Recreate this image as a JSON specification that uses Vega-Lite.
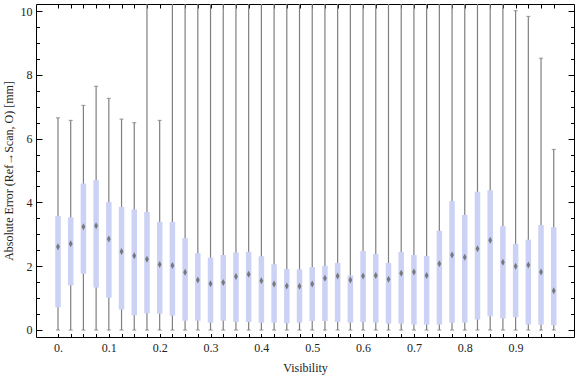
{
  "$schema": "https://vega.github.io/schema/vega-lite/v6.json",
  "width": 538,
  "height": 333,
  "autosize": "none",
  "padding": {"left": 36, "top": 4, "right": 2, "bottom": 40},
  "config": {
    "view": {"stroke": "black", "strokeWidth": 1},
    "axis": {
      "domain": false,
      "grid": false,
      "tickColor": "black",
      "tickWidth": 1,
      "labelFont": "Liberation Serif",
      "labelFontSize": 12,
      "labelColor": "#222222",
      "titleFont": "Liberation Serif",
      "titleFontSize": 12,
      "titleFontWeight": "normal",
      "titleColor": "#222222"
    }
  },
  "data": {
    "values": [
      {"v": 0.000, "lo": 0, "q1": 0.71, "med": 2.61, "q3": 3.57, "hi": 6.65},
      {"v": 0.025, "lo": 0, "q1": 1.40, "med": 2.70, "q3": 3.53, "hi": 6.57},
      {"v": 0.050, "lo": 0, "q1": 1.76, "med": 3.24, "q3": 4.59, "hi": 7.04},
      {"v": 0.075, "lo": 0, "q1": 1.33, "med": 3.27, "q3": 4.70, "hi": 7.64},
      {"v": 0.100, "lo": 0, "q1": 1.01, "med": 2.85, "q3": 4.01, "hi": 7.26},
      {"v": 0.125, "lo": 0, "q1": 0.64, "med": 2.46, "q3": 3.86, "hi": 6.61},
      {"v": 0.150, "lo": 0, "q1": 0.46, "med": 2.33, "q3": 3.78, "hi": 6.50},
      {"v": 0.175, "lo": 0, "q1": 0.52, "med": 2.22, "q3": 3.70, "hi": 12},
      {"v": 0.200, "lo": 0, "q1": 0.51, "med": 2.05, "q3": 3.39, "hi": 6.57},
      {"v": 0.225, "lo": 0, "q1": 0.45, "med": 2.02, "q3": 3.39, "hi": 12},
      {"v": 0.250, "lo": 0, "q1": 0.29, "med": 1.81, "q3": 2.88, "hi": 12},
      {"v": 0.275, "lo": 0, "q1": 0.29, "med": 1.57, "q3": 2.41, "hi": 12},
      {"v": 0.300, "lo": 0, "q1": 0.23, "med": 1.45, "q3": 2.27, "hi": 12},
      {"v": 0.325, "lo": 0, "q1": 0.29, "med": 1.49, "q3": 2.35, "hi": 12},
      {"v": 0.350, "lo": 0, "q1": 0.25, "med": 1.68, "q3": 2.43, "hi": 12},
      {"v": 0.375, "lo": 0, "q1": 0.25, "med": 1.75, "q3": 2.45, "hi": 12},
      {"v": 0.400, "lo": 0, "q1": 0.23, "med": 1.54, "q3": 2.31, "hi": 12},
      {"v": 0.425, "lo": 0, "q1": 0.23, "med": 1.44, "q3": 2.06, "hi": 12},
      {"v": 0.450, "lo": 0, "q1": 0.21, "med": 1.38, "q3": 1.91, "hi": 12},
      {"v": 0.475, "lo": 0, "q1": 0.23, "med": 1.37, "q3": 1.90, "hi": 12},
      {"v": 0.500, "lo": 0, "q1": 0.28, "med": 1.44, "q3": 1.97, "hi": 12},
      {"v": 0.525, "lo": 0, "q1": 0.28, "med": 1.62, "q3": 2.01, "hi": 12},
      {"v": 0.550, "lo": 0, "q1": 0.25, "med": 1.69, "q3": 2.10, "hi": 12},
      {"v": 0.575, "lo": 0, "q1": 0.23, "med": 1.57, "q3": 1.71, "hi": 12},
      {"v": 0.600, "lo": 0, "q1": 0.25, "med": 1.69, "q3": 2.48, "hi": 12},
      {"v": 0.625, "lo": 0, "q1": 0.23, "med": 1.71, "q3": 2.38, "hi": 12},
      {"v": 0.650, "lo": 0, "q1": 0.20, "med": 1.59, "q3": 2.10, "hi": 12},
      {"v": 0.675, "lo": 0, "q1": 0.20, "med": 1.78, "q3": 2.45, "hi": 12},
      {"v": 0.700, "lo": 0, "q1": 0.17, "med": 1.82, "q3": 2.35, "hi": 12},
      {"v": 0.725, "lo": 0, "q1": 0.17, "med": 1.71, "q3": 2.32, "hi": 12},
      {"v": 0.750, "lo": 0, "q1": 0.17, "med": 2.08, "q3": 3.11, "hi": 12},
      {"v": 0.775, "lo": 0, "q1": 0.23, "med": 2.35, "q3": 4.04, "hi": 12},
      {"v": 0.800, "lo": 0, "q1": 0.23, "med": 2.28, "q3": 3.61, "hi": 12},
      {"v": 0.825, "lo": 0, "q1": 0.33, "med": 2.55, "q3": 4.33, "hi": 12},
      {"v": 0.850, "lo": 0, "q1": 0.43, "med": 2.81, "q3": 4.38, "hi": 12},
      {"v": 0.875, "lo": 0, "q1": 0.36, "med": 2.12, "q3": 3.26, "hi": 12},
      {"v": 0.900, "lo": 0, "q1": 0.40, "med": 2.00, "q3": 2.70, "hi": 10.01},
      {"v": 0.925, "lo": 0, "q1": 0.17, "med": 2.04, "q3": 2.83, "hi": 9.83},
      {"v": 0.950, "lo": 0, "q1": 0.17, "med": 1.82, "q3": 3.29, "hi": 8.52},
      {"v": 0.975, "lo": 0, "q1": 0.15, "med": 1.23, "q3": 3.22, "hi": 5.66}
    ]
  },
  "resolve": {"axis": {"x": "independent", "y": "independent"}},
  "layer": [
    {
      "mark": {"type": "rule", "color": "#7f7f7f", "strokeWidth": 1.2, "clip": true},
      "encoding": {
        "x": {
          "field": "v", "type": "quantitative",
          "scale": {"domain": [-0.0334, 1.005], "nice": false, "zero": false},
          "axis": {
            "orient": "bottom",
            "title": "Visibility",
            "values": [0,0.025,0.05,0.075,0.1,0.125,0.15,0.175,0.2,0.225,0.25,0.275,0.3,0.325,0.35,0.375,0.4,0.425,0.45,0.475,0.5,0.525,0.55,0.575,0.6,0.625,0.65,0.675,0.7,0.725,0.75,0.775,0.8,0.825,0.85,0.875,0.9,0.925,0.95,0.975],
            "tickSize": -3.5,
            "labelPadding": 9,
            "labelExpr": "abs(datum.value*10 - round(datum.value*10)) < 0.001 ? (datum.value == 0 ? '0.' : format(datum.value, '.1f')) : ''",
            "labelFlush": false,
            "labelOverlap": false,
            "titlePadding": 9
          }
        },
        "y": {
          "field": "lo", "type": "quantitative",
          "scale": {"domain": [-0.22, 10.22], "nice": false, "zero": false},
          "axis": {
            "orient": "left",
            "title": "Absolute Error (Ref→Scan, O) [mm]",
            "values": [0,0.5,1,1.5,2,2.5,3,3.5,4,4.5,5,5.5,6,6.5,7,7.5,8,8.5,9,9.5,10],
            "tickSize": {"condition": {"test": "datum.value % 2 === 0", "value": -6}, "value": -3.5},
            "labelPadding": {"condition": {"test": "datum.value % 2 === 0", "value": 10}, "value": 7.5},
            "labelExpr": "datum.value % 2 === 0 ? format(datum.value, 'd') : ''",
            "labelFlush": false,
            "labelOverlap": false,
            "titlePadding": 5
          }
        },
        "y2": {"field": "hi"}
      }
    },
    {
      "mark": {"type": "tick", "color": "#7f7f7f", "orient": "horizontal", "size": 4, "thickness": 1.2, "clip": true},
      "encoding": {
        "x": {
          "field": "v", "type": "quantitative",
          "axis": {
            "orient": "top",
            "title": null,
            "values": [0,0.025,0.05,0.075,0.1,0.125,0.15,0.175,0.2,0.225,0.25,0.275,0.3,0.325,0.35,0.375,0.4,0.425,0.45,0.475,0.5,0.525,0.55,0.575,0.6,0.625,0.65,0.675,0.7,0.725,0.75,0.775,0.8,0.825,0.85,0.875,0.9,0.925,0.95,0.975],
            "tickSize": -4,
            "labels": false
          }
        },
        "y": {
          "field": "hi", "type": "quantitative",
          "axis": {
            "orient": "right",
            "title": null,
            "values": [0,0.5,1,1.5,2,2.5,3,3.5,4,4.5,5,5.5,6,6.5,7,7.5,8,8.5,9,9.5,10],
            "tickSize": {"condition": {"test": "datum.value % 2 === 0", "value": -6}, "value": -3.5},
            "labels": false
          }
        }
      }
    },
    {
      "mark": {"type": "tick", "color": "#7f7f7f", "orient": "horizontal", "size": 4, "thickness": 1.2, "clip": true},
      "encoding": {
        "x": {"field": "v", "type": "quantitative", "axis": null},
        "y": {"field": "lo", "type": "quantitative", "axis": null}
      }
    },
    {
      "mark": {"type": "bar", "color": "#cbd2f5", "size": 5.5},
      "encoding": {
        "x": {"field": "v", "type": "quantitative", "axis": null},
        "y": {"field": "q1", "type": "quantitative", "axis": null},
        "y2": {"field": "q3"}
      }
    },
    {
      "mark": {"type": "point", "filled": true, "color": "#6f6f6f", "opacity": 0.9, "shape": "M0,-1L0.55,0L0,1L-0.55,0Z", "size": 49},
      "encoding": {
        "x": {"field": "v", "type": "quantitative", "axis": null},
        "y": {"field": "med", "type": "quantitative", "axis": null}
      }
    }
  ]
}
